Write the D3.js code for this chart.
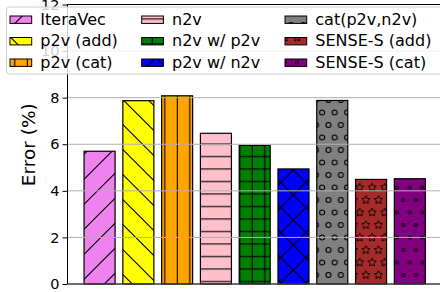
<!DOCTYPE html>
<html><head><meta charset="utf-8">
<script src="https://cdn.jsdelivr.net/npm/d3@7"></script>
<style>html,body{margin:0;padding:0;background:#fff;}svg{display:block;font-family:"DejaVu Sans",sans-serif;}</style>
</head><body>
<script>
const categories = ["IteraVec","p2v (add)","p2v (cat)","n2v","n2v w/ p2v","p2v w/ n2v","cat(p2v,n2v)","SENSE-S (add)","SENSE-S (cat)"];
const values = [5.70, 7.87, 8.08, 6.47, 5.95, 4.94, 7.88, 4.49, 4.52];
const colors = ["#ee82ee","#ffff00","#ffa500","#ffc0cb","#008000","#0000ff","#808080","#a52a2a","#800080"];
const hatches = ["/","\\","|","-","+","x","o","*","."];
const yTicks = [0,2,4,6,8,10,12];
const yLabel = "Error (%)";

const W = 440, H = 292;
const svg = d3.select("body").append("svg").attr("width", W).attr("height", H);
const defs = svg.append("defs");

const x = d3.scaleLinear().domain([-0.84, 8.84]).range([67, 442.4]);
const y = d3.scaleLinear().domain([0, 12]).range([284, 4.5]);

const P = 12.5, D = 25;
function diagPath(c, sign) {
  // sign +1: lines x+y=c+kD ('/'); sign -1: lines y-x=c+kD ('\')
  let d = "";
  for (let k = -2; k <= 3; k++) {
    const cc = c + k * D;
    if (sign > 0) d += `M${-5},${cc + 5}L${D + 5},${cc - D - 5}`;
    else d += `M${-5},${cc - 5}L${D + 5},${cc + D + 5}`;
  }
  return d;
}
function starPath(cx, cy, R) {
  const r = R * 0.5; let pts = [];
  for (let i = 0; i < 10; i++) {
    const a = -Math.PI / 2 + i * Math.PI / 5;
    const rr = i % 2 === 0 ? R : r;
    pts.push([cx + rr * Math.cos(a), cy + rr * Math.sin(a)]);
  }
  return "M" + pts.map(p => p.map(v => v.toFixed(2)).join(",")).join("L") + "Z";
}
function makePattern(id, color, h) {
  let w = P, hh = P;
  if ("/\\x".includes(h)) { w = D; hh = D; }
  if ("o*.".includes(h)) { w = P; hh = D; }
  const p = defs.append("pattern").attr("id", id).attr("patternUnits", "userSpaceOnUse")
    .attr("x", 0).attr("y", 0).attr("width", w).attr("height", hh);
  p.append("rect").attr("width", w).attr("height", hh).attr("fill", color);
  const st = { stroke: "#000", "stroke-width": 1.1, fill: "none" };
  const line = (d) => { const e = p.append("path").attr("d", d); for (const k in st) e.attr(k, st[k]); };
  if (h === "/" || h === "x") line(diagPath(13.3, 1));
  if (h === "\\" || h === "x") line(diagPath(1.7, -1));
  if (h === "|" || h === "+") line(`M2.3,-1V${hh + 1}`);
  if (h === "-" || h === "+") line(`M-1,6.5H${w + 1}`);
  if ("o*.".includes(h)) {
    const centers = [];
    for (const dx of [-P, 0, P]) for (const dy of [-D, 0, D]) {
      centers.push([3.4 + dx, 0 + dy]);
      centers.push([9.65 + dx, 12.5 + dy]);
    }
    centers.forEach(([cx, cy]) => {
      if (h === "o") p.append("circle").attr("cx", cx).attr("cy", cy).attr("r", 2.5)
        .attr("fill", "none").attr("stroke", "#000").attr("stroke-width", 1.1);
      if (h === ".") p.append("circle").attr("cx", cx).attr("cy", cy).attr("r", 1.5)
        .attr("fill", "none").attr("stroke", "#000").attr("stroke-width", 1);
      if (h === "*") p.append("path").attr("d", starPath(cx, cy, 4.3))
        .attr("fill", "none").attr("stroke", "#000").attr("stroke-width", 0.9);
    });
  }
}
categories.forEach((c, i) => makePattern("pat" + i, colors[i], hatches[i]));

// bars
svg.append("g").selectAll("rect").data(values).join("rect")
  .attr("x", (d, i) => x(i - 0.4))
  .attr("width", (d, i) => x(i + 0.4) - x(i - 0.4))
  .attr("y", d => y(d))
  .attr("height", d => y(0) - y(d))
  .attr("fill", (d, i) => `url(#pat${i})`)
  .attr("stroke", "#000").attr("stroke-width", 1.2);

// grid (over bars)
svg.append("g").selectAll("line").data(yTicks).join("line")
  .attr("x1", 67).attr("x2", W).attr("y1", d => y(d)).attr("y2", d => y(d))
  .attr("stroke", "#b0b0b0").attr("stroke-width", 1);

// spines
svg.append("line").attr("x1", 67).attr("x2", W).attr("y1", y(12)).attr("y2", y(12)).attr("stroke", "#000");
svg.append("line").attr("x1", 67).attr("x2", W).attr("y1", y(0)).attr("y2", y(0)).attr("stroke", "#000");

// y axis
const ax = svg.append("g").attr("transform", "translate(67,0)")
  .call(d3.axisLeft(y).tickValues(yTicks).tickFormat(d3.format("d")).tickSize(4.5).tickPadding(3));
ax.select(".domain").attr("stroke", "#000").attr("d", `M0.5,${y(12)}V${y(0)}`);
ax.selectAll("text").attr("font-size", 14.5).attr("font-family", "DejaVu Sans").attr("fill", "#000");
ax.selectAll(".tick line").attr("stroke", "#000");

svg.append("text").attr("transform", `translate(35,144.7) rotate(-90)`)
  .attr("text-anchor", "middle").attr("font-size", 18.5).attr("fill", "#000").text(yLabel);

// legend
const lg = svg.append("g");
lg.append("rect").attr("x", 6.5).attr("y", 7).attr("width", 450).attr("height", 67).attr("rx", 3)
  .attr("fill", "#fff").attr("fill-opacity", 0.8).attr("stroke", "#cccccc").attr("stroke-width", 1);
const colX = [10, 141.7, 285];
const rowY = [19.7, 41.2, 62.7];
categories.forEach((c, i) => {
  const col = Math.floor(i / 3), row = i % 3;
  lg.append("rect").attr("x", colX[col]).attr("y", rowY[row] - 3.7).attr("width", 21.7).attr("height", 7.4)
    .attr("fill", `url(#pat${i})`).attr("stroke", "#000").attr("stroke-width", 1);
  lg.append("text").attr("x", colX[col] + 30.3).attr("y", rowY[row] + 5)
    .attr("font-size", 16).attr("fill", "#000").text(c);
});
</script>
</body></html>
